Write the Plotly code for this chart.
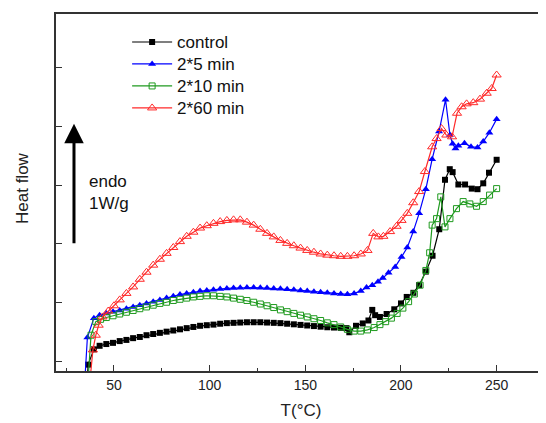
import plotly.graph_objects as go

# ---------------- data ----------------
control_T = [36, 36.5, 39.5, 42.5, 46, 49.5, 53, 56.5, 60, 63.5, 67, 70.5, 74, 77.5, 81, 84.5,
             88, 91.5, 95, 98.5, 102, 105.5, 109, 112.5, 116, 119.5, 123, 126.5, 130, 133.5,
             137, 140.5, 144, 147.5, 151, 154.5, 158, 161.5, 165, 168.5, 171.5, 173, 176.5, 180,
             183, 185, 186.5, 189, 192.5, 196.5, 200, 203, 206.5, 209.5, 213, 216.5, 220, 223,
             225.5, 227, 230, 233.5, 237, 240, 243, 246, 250]
control_Y = [-0.3, -0.05, 0.21, 0.27, 0.30, 0.32, 0.35, 0.37, 0.40, 0.42, 0.45, 0.47, 0.49, 0.51,
             0.53, 0.55, 0.57, 0.59, 0.61, 0.62, 0.63, 0.645, 0.655, 0.66, 0.665, 0.67, 0.67, 0.67,
             0.665, 0.66, 0.655, 0.645, 0.635, 0.625, 0.615, 0.605, 0.595, 0.585, 0.58, 0.575,
             0.57, 0.50, 0.61, 0.65, 0.70, 0.88, 0.79, 0.76, 0.81, 0.89, 0.99, 1.10, 1.17, 1.30,
             1.53, 1.80, 2.25, 3.09, 3.27, 3.22, 3.01, 3.01, 2.94, 2.93, 3.03, 3.21, 3.43]

min5_T = [34.8, 36.1, 39.5, 42.5, 46, 49.5, 53, 56.5, 60, 63.5, 67, 70.5, 74, 77.5, 81, 84.5, 88,
          91.5, 95, 98.5, 102, 105.5, 109, 112.5, 116, 119.5, 123, 126.5, 130, 133.5, 137, 140.5,
          144, 147.5, 151, 154.5, 158, 161.5, 165, 168.5, 172, 175.5, 179, 182, 185, 188, 190.5,
          193.5, 197, 200.3, 203.3, 206.4, 209.5, 213, 216.3, 219.9, 223.3, 225.6, 227, 228.5,
          230, 233.2, 236.6, 240, 243, 246.2, 250]
min5_Y = [-0.3, 0.41, 0.74, 0.79, 0.82, 0.85, 0.87, 0.90, 0.93, 0.96, 0.99, 1.02, 1.05, 1.08,
          1.11, 1.14, 1.16, 1.18, 1.20, 1.21, 1.22, 1.235, 1.245, 1.25, 1.255, 1.26, 1.26, 1.255,
          1.25, 1.245, 1.24, 1.23, 1.22, 1.21, 1.20, 1.19, 1.18, 1.17, 1.16, 1.15, 1.145, 1.16,
          1.20, 1.26, 1.30, 1.36, 1.42, 1.51, 1.61, 1.78, 1.94, 2.21, 2.52, 2.93, 3.44, 3.91,
          4.45, 3.85, 3.70, 3.62, 3.67, 3.71, 3.65, 3.64, 3.74, 3.89, 4.12]

min10_T = [36.5, 38, 40.5, 43, 46, 49.5, 53, 56.5, 60, 63.5, 67, 70.5, 74, 77.5, 81, 84.5, 88,
           91.5, 95, 98.5, 102, 105.5, 109, 112.5, 116, 119.5, 123, 126.5, 130, 133.5, 137,
           140.5, 144, 147.5, 151, 154.5, 158, 161.5, 165, 168.5, 172, 175.5, 179, 182.5, 186,
           189, 192, 195, 198, 201, 204, 207, 210, 213, 215, 216.3, 218.6, 220.8, 223, 225.6,
           229, 232.5, 236, 239.5, 243, 246.3, 250]
min10_Y = [-0.3, 0.45, 0.68, 0.72, 0.75, 0.78, 0.81, 0.84, 0.87, 0.90, 0.93, 0.96, 0.99, 1.01,
           1.04, 1.06, 1.08, 1.10, 1.11, 1.12, 1.12, 1.11, 1.10, 1.08, 1.06, 1.04, 1.01, 0.98,
           0.95, 0.92, 0.88, 0.85, 0.82, 0.79, 0.76, 0.73, 0.70, 0.66, 0.63, 0.59, 0.55, 0.52,
           0.52, 0.54, 0.58, 0.63, 0.68, 0.74, 0.82, 0.91, 1.02, 1.15, 1.30, 1.55, 1.85, 2.32,
           2.43, 2.80, 2.29, 2.43, 2.60, 2.72, 2.68, 2.64, 2.72, 2.83, 2.94]

min60_T = [37.5, 39, 40.5, 42, 44, 47, 50, 53, 56.5, 60, 63.5, 67, 70.5, 74, 77.5, 81, 84.5, 88,
           91.5, 95, 98.5, 102, 105.5, 109, 112.5, 116, 119.5, 123, 126.5, 130, 133.5, 137,
           140.5, 144, 147.5, 151, 154.5, 158, 161.5, 165, 168.5, 172, 175.5, 179, 182.5, 185.5,
           188.2, 190.8, 194.3, 197.7, 200.3, 203.3, 206.4, 209.5, 212.5, 216.3, 218.6, 221.2,
           223.7, 226.7, 229.3, 231.7, 234.3, 237.8, 241.3, 244.8, 247.4, 250]
min60_Y = [-0.3, 0.20, 0.45, 0.62, 0.76, 0.86, 0.95, 1.05, 1.16, 1.27, 1.40, 1.52, 1.64, 1.74,
           1.84, 1.94, 2.04, 2.13, 2.20, 2.27, 2.31, 2.35, 2.38, 2.40, 2.41, 2.41, 2.37, 2.32,
           2.25, 2.18, 2.12, 2.06, 2.01, 1.97, 1.93, 1.89, 1.86, 1.83, 1.81, 1.80, 1.79, 1.79,
           1.80, 1.83, 1.89, 2.18, 2.12, 2.13, 2.21, 2.30, 2.40, 2.52, 2.70, 2.89, 3.23, 3.65,
           3.79, 3.96, 3.85, 3.82, 4.22, 4.33, 4.38, 4.40, 4.46, 4.56, 4.64, 4.87]

series_names = ["control", "2*5 min", "2*10 min", "2*60 min"]
x_ticks = [50, 100, 150, 200, 250]
y_ticks = [0, 1, 2, 3, 4, 5]

# ---------------- figure ----------------
FONT = "Liberation Sans, Arial, sans-serif"
fig = go.Figure()

styles = [
    (control_T, control_Y, "black", dict(symbol="square", size=6, color="black")),
    (min5_T, min5_Y, "#0000ff", dict(symbol="triangle-up", size=7, color="#0000ff")),
    (min10_T, min10_Y, "#1f9a1f", dict(symbol="square-open", size=6, color="#1f9a1f",
                                         line=dict(width=1))),
    (min60_T, min60_Y, "#ff2a2a", dict(symbol="triangle-up-open", size=8, color="#ff2a2a",
                                         line=dict(width=1))),
]
for name, (xs, ys, col, mk) in zip(series_names, styles):
    fig.add_trace(go.Scatter(x=xs, y=ys, name=f'<span style="font-size:17px">{name}</span>',
                             mode="lines+markers",
                             line=dict(color=col, width=1.2), marker=mk,
                             cliponaxis=True))

# page body adds an 8px offset; figure is sized/placed so the plot lands where the reference has it
OFF = 8
W, H = 546 - OFF, 423 - OFF
L, T, B = 56 - OFF, 14 - OFF, 52
PW, PH = W - L, H - T - B

axis_col = "#333333"
fig.update_xaxes(range=[19.7, 275.8], tickvals=x_ticks, ticks="inside", ticklen=6,
                 tickwidth=1.2, tickcolor=axis_col, showline=True, linecolor=axis_col,
                 linewidth=1.5, mirror=True, showgrid=False, zeroline=False, automargin=False,
                 tickfont=dict(family=FONT, size=14, color="#222"),
                 minor=dict(tickvals=[25, 75, 125, 175, 225], ticks="inside", ticklen=3,
                            tickcolor=axis_col, tickwidth=1.2),
                 title=dict(text="T(°C)", font=dict(family=FONT, size=17, color="#222"),
                            standoff=13))
fig.update_yaxes(range=[-0.158, 5.906], tickvals=y_ticks, ticks="inside", ticklen=6,
                 tickwidth=1.2, tickcolor=axis_col, showticklabels=False, showline=True,
                 linecolor=axis_col, linewidth=1.5, mirror=False, showgrid=False,
                 zeroline=False, automargin=False)

# endo arrow and texts
fig.add_annotation(x=29.1, y=4.04, xref="x", yref="y", ax=0, ay=121, axref="pixel",
                   ayref="pixel", showarrow=True, arrowhead=2, arrowsize=1.3, arrowwidth=3,
                   arrowcolor="black", text="")
fig.add_annotation(x=(87 - 56) / PW, xref="paper", xanchor="left",
                   y=(371 - 192) / PH, yref="paper", yanchor="middle",
                   text="endo<br>1W/g", showarrow=False, align="left",
                   font=dict(family=FONT, size=17, color="#111"))
fig.add_annotation(x=-(56 - 22) / PW, xref="paper", xanchor="center",
                   y=(371 - 188) / PH, yref="paper", yanchor="middle", textangle=-90,
                   text="Heat flow", showarrow=False,
                   font=dict(family=FONT, size=17, color="#222"))

fig.update_layout(
    width=W, height=H,
    margin=dict(l=L, r=0, t=T, b=B, autoexpand=False),
    paper_bgcolor="white", plot_bgcolor="white",
    showlegend=True,
    legend=dict(x=(133 - 56) / PW - 0.012, y=1 - (26 - 14) / PH, xanchor="left",
                yanchor="top", bgcolor="rgba(0,0,0,0)", tracegroupgap=0,
                font=dict(family=FONT, size=14.6, color="#111"), itemwidth=40),
)

fig.write_html("out.html")
